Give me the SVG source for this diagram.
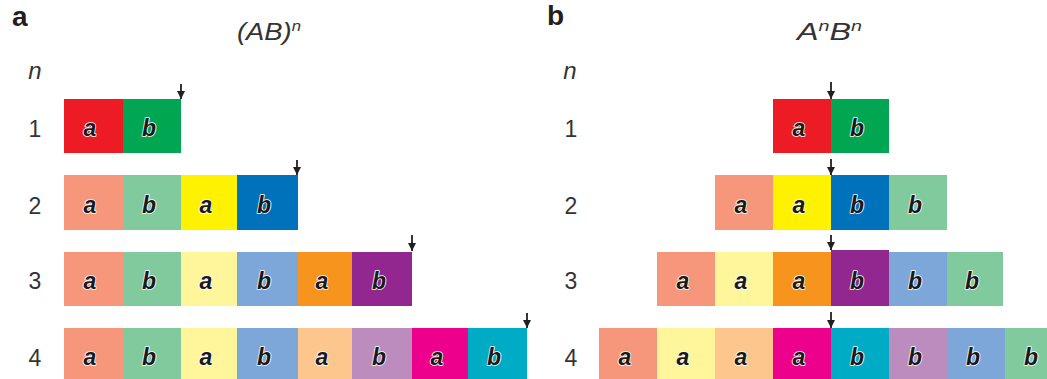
<svg xmlns="http://www.w3.org/2000/svg" width="1047" height="379" viewBox="0 0 1047 379">
<style>
.lbl{font-family:"Liberation Sans",Arial,sans-serif;font-weight:bold;font-size:28px;fill:#231F20}
.ttl{font-family:"Liberation Sans",Arial,sans-serif;font-style:italic;font-size:23px;fill:#333}
.num{font-family:"Liberation Sans",Arial,sans-serif;font-size:23px;fill:#333;text-anchor:middle}
.nn{font-family:"Liberation Sans",Arial,sans-serif;font-style:italic;font-size:24px;fill:#333;text-anchor:middle}
.l{font-family:"Liberation Sans",Arial,sans-serif;font-style:italic;font-weight:bold;font-size:23px;fill:#1a1a1a;stroke:#fff;stroke-width:1.6;stroke-linejoin:round;paint-order:stroke;text-anchor:middle}
.arr{stroke:#231F20;stroke-width:1.8;fill:none}
</style>
<defs>
<marker id="ah" viewBox="0 0 8 8" refX="8" refY="4" markerWidth="8" markerHeight="8" markerUnits="userSpaceOnUse" orient="auto">
<path d="M0,0 L8,4 L0,8 Z" fill="#231F20"/>
</marker>
</defs>
<text class="lbl" x="12" y="26">a</text>
<text class="lbl" x="547" y="25">b</text>
<text class="ttl" x="237" y="40" textLength="64" lengthAdjust="spacingAndGlyphs">(AB)<tspan font-size="14" dy="-9">n</tspan></text>
<text class="ttl" x="797" y="40" textLength="65" lengthAdjust="spacingAndGlyphs">A<tspan font-size="14" dy="-9">n</tspan><tspan dy="9">B</tspan><tspan font-size="14" dy="-9">n</tspan></text>
<text class="nn" x="35" y="79">n</text>
<text class="nn" x="570" y="79">n</text>
<g id="rowlabels-a">
<text class="num" x="35" y="137">1</text>
<text class="num" x="35" y="214">2</text>
<text class="num" x="35" y="289">3</text>
<text class="num" x="35" y="366">4</text>
</g>
<g id="rowlabels-b">
<text class="num" x="571" y="137">1</text>
<text class="num" x="571" y="214">2</text>
<text class="num" x="571" y="289">3</text>
<text class="num" x="571" y="366">4</text>
</g>
<!-- Panel a -->
<g id="a-row1">
<rect x="64" y="99" width="59" height="54" fill="#ED1C24"/><text class="l" x="90" y="136">a</text>
<rect x="123" y="99" width="58" height="54" fill="#00A651"/><text class="l" x="149" y="136">b</text>
</g>
<g id="a-row2">
<rect x="64" y="175" width="59" height="55" fill="#F6967A"/><text class="l" x="90" y="213">a</text>
<rect x="123" y="175" width="58" height="55" fill="#81CA9D"/><text class="l" x="149" y="213">b</text>
<rect x="181" y="175" width="56" height="55" fill="#FFF200"/><text class="l" x="206" y="213">a</text>
<rect x="237" y="175" width="61" height="55" fill="#0072BC"/><text class="l" x="264" y="213">b</text>
</g>
<g id="a-row3">
<rect x="64" y="252" width="59" height="54" fill="#F6967A"/><text class="l" x="90" y="289">a</text>
<rect x="123" y="252" width="58" height="54" fill="#81CA9D"/><text class="l" x="149" y="289">b</text>
<rect x="181" y="252" width="56" height="54" fill="#FFF59A"/><text class="l" x="206" y="289">a</text>
<rect x="237" y="252" width="61" height="54" fill="#7DA7D9"/><text class="l" x="264" y="289">b</text>
<rect x="298" y="252" width="54" height="54" fill="#F7941D"/><text class="l" x="322" y="289">a</text>
<rect x="352" y="252" width="60" height="54" fill="#92278F"/><text class="l" x="379" y="289">b</text>
</g>
<g id="a-row4">
<rect x="64" y="328" width="59" height="54" fill="#F6967A"/><text class="l" x="90" y="365">a</text>
<rect x="123" y="328" width="58" height="54" fill="#81CA9D"/><text class="l" x="149" y="365">b</text>
<rect x="181" y="328" width="56" height="54" fill="#FFF59A"/><text class="l" x="206" y="365">a</text>
<rect x="237" y="328" width="61" height="54" fill="#7DA7D9"/><text class="l" x="264" y="365">b</text>
<rect x="298" y="328" width="54" height="54" fill="#FDC68C"/><text class="l" x="322" y="365">a</text>
<rect x="352" y="328" width="60" height="54" fill="#BC8CBF"/><text class="l" x="379" y="365">b</text>
<rect x="412" y="328" width="56" height="54" fill="#EC008C"/><text class="l" x="437" y="365">a</text>
<rect x="468" y="328" width="59" height="54" fill="#00ABC5"/><text class="l" x="494" y="365">b</text>
</g>
<!-- Panel b -->
<g id="b-row1">
<rect x="773" y="99" width="58" height="54" fill="#ED1C24"/><text class="l" x="799" y="136">a</text>
<rect x="831" y="99" width="58" height="54" fill="#00A651"/><text class="l" x="857" y="136">b</text>
</g>
<g id="b-row2">
<rect x="715" y="175" width="58" height="55" fill="#F6967A"/><text class="l" x="741" y="213">a</text>
<rect x="773" y="175" width="58" height="55" fill="#FFF200"/><text class="l" x="799" y="213">a</text>
<rect x="831" y="175" width="58" height="55" fill="#0072BC"/><text class="l" x="857" y="213">b</text>
<rect x="889" y="175" width="58" height="55" fill="#81CA9D"/><text class="l" x="915" y="213">b</text>
</g>
<g id="b-row3">
<rect x="657" y="252" width="58" height="54" fill="#F6967A"/><text class="l" x="683" y="289">a</text>
<rect x="715" y="252" width="58" height="54" fill="#FFF59A"/><text class="l" x="741" y="289">a</text>
<rect x="773" y="252" width="58" height="54" fill="#F7941D"/><text class="l" x="799" y="289">a</text>
<rect x="831" y="250" width="58" height="56" fill="#92278F"/><text class="l" x="857" y="289">b</text>
<rect x="889" y="252" width="58" height="54" fill="#7DA7D9"/><text class="l" x="915" y="289">b</text>
<rect x="947" y="252" width="56" height="54" fill="#81CA9D"/><text class="l" x="972" y="289">b</text>
</g>
<g id="b-row4">
<rect x="599" y="328" width="58" height="54" fill="#F6967A"/><text class="l" x="625" y="365">a</text>
<rect x="657" y="328" width="58" height="54" fill="#FFF59A"/><text class="l" x="683" y="365">a</text>
<rect x="715" y="328" width="58" height="54" fill="#FDC68C"/><text class="l" x="741" y="365">a</text>
<rect x="773" y="328" width="58" height="54" fill="#EC008C"/><text class="l" x="799" y="365">a</text>
<rect x="831" y="328" width="58" height="54" fill="#00ABC5"/><text class="l" x="857" y="365">b</text>
<rect x="889" y="328" width="58" height="54" fill="#BC8CBF"/><text class="l" x="915" y="365">b</text>
<rect x="947" y="328" width="58" height="54" fill="#7DA7D9"/><text class="l" x="973" y="365">b</text>
<rect x="1005" y="328" width="58" height="54" fill="#81CA9D"/><text class="l" x="1031" y="365">b</text>
</g>
<g id="connectors">
<line class="arr" x1="181" y1="84" x2="181" y2="99" marker-end="url(#ah)"/>
<line class="arr" x1="297" y1="160" x2="297" y2="175" marker-end="url(#ah)"/>
<line class="arr" x1="412" y1="235" x2="412" y2="251" marker-end="url(#ah)"/>
<line class="arr" x1="527" y1="313" x2="527" y2="328" marker-end="url(#ah)"/>
<line class="arr" x1="831" y1="82" x2="831" y2="99" marker-end="url(#ah)"/>
<line class="arr" x1="831" y1="159" x2="831" y2="175" marker-end="url(#ah)"/>
<line class="arr" x1="831" y1="235" x2="831" y2="250" marker-end="url(#ah)"/>
<line class="arr" x1="831" y1="312" x2="831" y2="328" marker-end="url(#ah)"/>
</g>
</svg>
